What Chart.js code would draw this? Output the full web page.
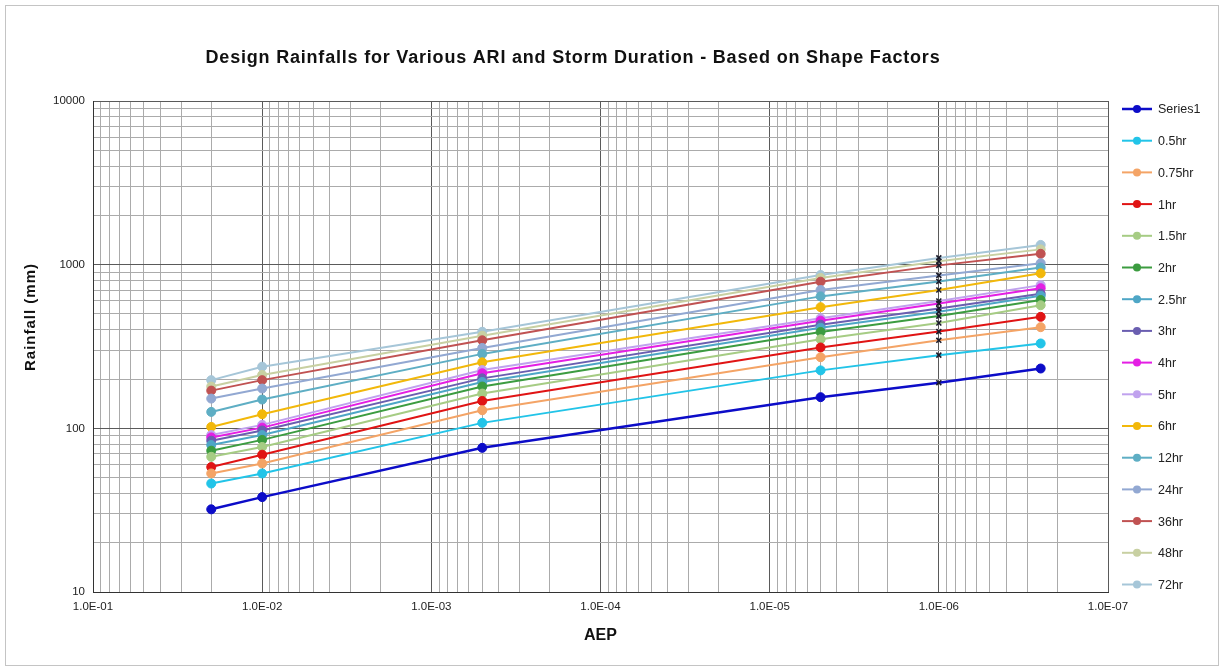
<!DOCTYPE html>
<html>
<head>
<meta charset="utf-8">
<title>Design Rainfalls</title>
<script src="https://cdn.jsdelivr.net/npm/chart.js@4/dist/chart.umd.min.js"></script>
<style>
  html, body { margin: 0; padding: 0; background: #fff; }
  #wrap { width: 1224px; height: 671px; }
</style>
</head>
<body>
<div id="wrap"><canvas id="rainChart" width="1224" height="671"></canvas></div>
<script>
// AEP of each design storm point
const aep = [0.02, 0.01, 0.0005, 0.000005, 0.000001, 0.00000025]

const seriesNames = ['Series1', '0.5hr', '0.75hr', '1hr', '1.5hr', '2hr', '2.5hr', '3hr', '4hr', '5hr', '6hr', '12hr', '24hr', '36hr', '48hr', '72hr']
const seriesColors = ['#0c0cc8', '#22c4e8', '#f4a466', '#e01414', '#a6cc84', '#3c9c40', '#4ea6c6', '#6a5eb0', '#e41ee4', '#c0a2ee', '#f2b80a', '#5eaec4', '#92a8d2', '#c05252', '#c8d0a2', '#a6c6d8']

// rainfall depths (mm), one row per duration
const rainSeries1 = [32, 38, 76, 155, 190, 232]
const rain05hr = [46, 53, 108, 226, 280, 330]
const rain075hr = [53, 61, 129, 272, 345, 415]
const rain1hr = [58, 69, 147, 312, 390, 480]
const rain15hr = [67, 77, 163, 350, 440, 565]
const rain2hr = [73, 85, 180, 388, 485, 608]
const rain25hr = [79, 91, 192, 412, 515, 645]
const rain3hr = [84, 97, 202, 430, 540, 665]
const rain4hr = [88, 101, 217, 455, 580, 718]
const rain5hr = [91, 105, 227, 470, 600, 750]
const rain6hr = [102, 122, 253, 550, 700, 885]
const rain12hr = [126, 150, 285, 640, 790, 960]
const rain24hr = [152, 175, 310, 700, 860, 1020]
const rain36hr = [170, 197, 345, 787, 990, 1165]
const rain48hr = [180, 212, 368, 830, 1050, 1240]
const rain72hr = [197, 238, 389, 865, 1100, 1320]
const rainRows = [rainSeries1, rain05hr, rain075hr, rain1hr, rain15hr, rain2hr, rain25hr, rain3hr, rain4hr, rain5hr, rain6hr, rain12hr, rain24hr, rain36hr, rain48hr, rain72hr]

// the 1E-06 point of every duration is flagged with a cross
const crossIndex = 4

const xTickLabels = ['1.0E-07', '1.0E-06', '1.0E-05', '1.0E-04', '1.0E-03', '1.0E-02', '1.0E-01']
const yTickLabels = ['10', '100', '1000', '10000']

const chartTitle = 'Design Rainfalls for Various ARI and Storm Duration - Based on Shape Factors'
const yTitle = 'Rainfall (mm)'

const FONT = "'Liberation Sans', Arial, sans-serif"

// every 1..9 x 10^n tick between two decades
function logTicks(loExp, hiExp){
  const out = []
  for(let e=loExp; e<hiExp; e++){
    for(let m=1; m<=9; m++) out.push({value: m*Math.pow(10,e), major: m===1})
  }
  out.push({value: Math.pow(10,hiExp), major: true})
  return out
}

const datasets = rainRows.map((row,i)=>({
  label: seriesNames[i],
  data: row.map((v,j)=>({x: aep[j], y: v})),
  borderColor: seriesColors[i],
  backgroundColor: seriesColors[i],
  borderWidth: i===0 ? 2.5 : 2,
  pointStyle: c => c.dataIndex===crossIndex ? 'crossRot' : 'circle',
  pointRadius: c => c.dataIndex===crossIndex ? 3.5 : 4.5,
  pointBorderWidth: c => c.dataIndex===crossIndex ? 1.6 : 1,
  pointBorderColor: c => c.dataIndex===crossIndex ? '#1a1a2a' : seriesColors[i],
  pointBackgroundColor: seriesColors[i],
  tension: 0
}))

// page frame, titles and Excel-style legend with line + marker
const framePlugin = {
  id: 'frame',
  beforeDraw(chart){
    const ctx = chart.ctx
    ctx.save()
    ctx.fillStyle = '#fff'; ctx.fillRect(0,0,chart.width,chart.height)
    ctx.strokeStyle = '#c4c4c4'; ctx.lineWidth = 1
    ctx.strokeRect(5.5,5.5,chart.width-11,chart.height-11)
    ctx.restore()
  },
  afterDraw(chart){
    const ctx = chart.ctx
    ctx.save()
    ctx.fillStyle = '#111'; ctx.textAlign = 'center'; ctx.textBaseline = 'middle'
    ctx.font = 'bold 18px ' + FONT
    ctx.letterSpacing = '0.8px'
    ctx.fillText(chartTitle, 573, 58)
    ctx.translate(31, 317); ctx.rotate(-Math.PI/2)
    ctx.font = 'bold 15px ' + FONT
    ctx.letterSpacing = '1px'
    ctx.fillText(yTitle, 0, 0)
    ctx.restore()

    ctx.save()
    ctx.font = '12.5px ' + FONT
    ctx.textBaseline = 'middle'
    chart.data.datasets.forEach((ds,i)=>{
      const y = 109 + i*31.7
      ctx.strokeStyle = ds.borderColor; ctx.lineWidth = ds.borderWidth
      ctx.beginPath(); ctx.moveTo(1122,y); ctx.lineTo(1152,y); ctx.stroke()
      ctx.fillStyle = ds.borderColor
      ctx.beginPath(); ctx.arc(1137,y,4,0,Math.PI*2); ctx.fill()
      ctx.fillStyle = '#222'
      ctx.fillText(ds.label, 1158, y+1)
    })
    ctx.restore()
  }
}

new Chart(document.getElementById('rainChart'), {
  type: 'line',
  data: {datasets},
  plugins: [framePlugin],
  options: {
    responsive: false,
    animation: false,
    devicePixelRatio: 1,
    layout: {padding: {left: 0, right: 116, top: 101, bottom: 0}},
    plugins: {
      legend: {display: false},
      tooltip: {enabled: false},
      title: {display: false}
    },
    scales: {
      x: {
        type: 'logarithmic',
        reverse: true,
        min: 1e-7, max: 1e-1,
        afterBuildTicks: s => { s.ticks = logTicks(-7,-1) },
        afterFit: s => { s.height = 79 },
        ticks: {
          autoSkip: false, maxRotation: 0, padding: 8,
          color: '#222', font: {family: FONT, size: 11.5},
          callback: (v,idx,ticks) => ticks[idx].major ? xTickLabels[Math.round(Math.log10(v))+7] : ''
        },
        grid: {
          drawTicks: false,
          color: c => c.tick && c.tick.major ? '#5a5a5a' : '#ababab',
          lineWidth: 1
        },
        border: {display: true, color: '#333', width: 1},
        title: {display: true, text: 'AEP', color: '#111', font: {family: FONT, size: 16, weight: 'bold', lineHeight: 1.2}, padding: {top: 0, bottom: 26}}
      },
      y: {
        type: 'logarithmic',
        min: 10, max: 10000,
        afterBuildTicks: s => { s.ticks = logTicks(1,4) },
        afterFit: s => { s.width = 93 },
        ticks: {
          autoSkip: false, padding: 8,
          color: '#222', font: {family: FONT, size: 11.5},
          callback: (v,idx,ticks) => ticks[idx].major ? yTickLabels[Math.round(Math.log10(v))-1] : ''
        },
        grid: {
          drawTicks: false,
          color: c => c.tick && c.tick.major ? '#5a5a5a' : '#ababab',
          lineWidth: 1
        },
        border: {display: true, color: '#333', width: 1}
      }
    }
  }
})
</script>
</body>
</html>
